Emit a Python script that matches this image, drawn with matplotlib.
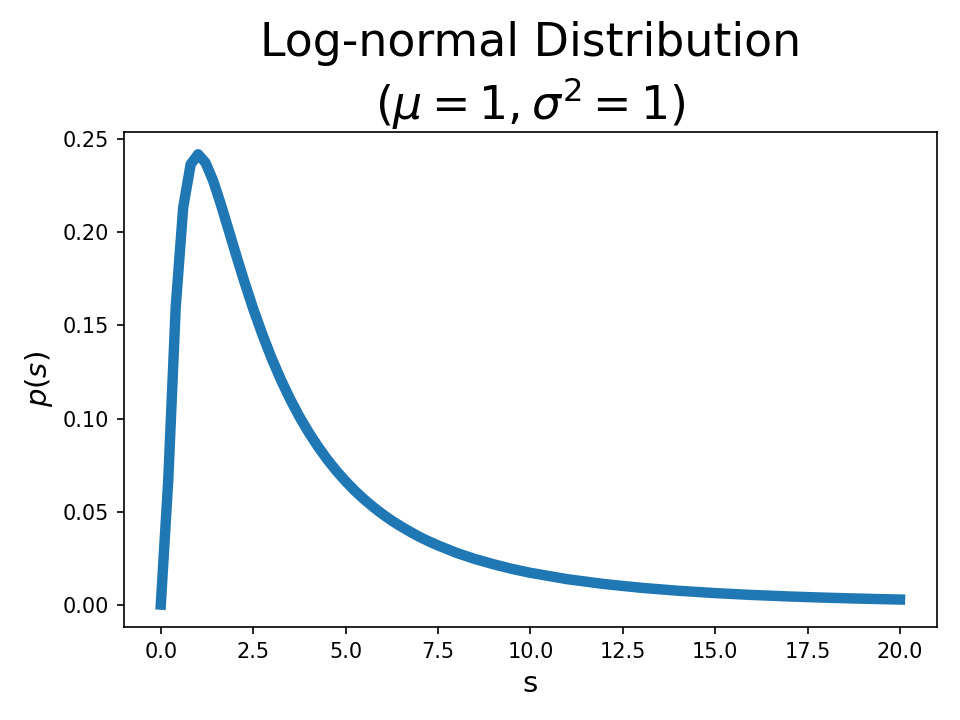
import matplotlib
matplotlib.use('Agg')
import matplotlib.pyplot as plt

# values
s_vals = [0.0, 0.202, 0.404, 0.606, 0.808, 1.01, 1.212, 1.414, 1.616, 1.818, 2.02,
          2.25, 2.5, 2.75, 3.0, 3.25, 3.5, 3.75, 4.0, 4.25, 4.5, 4.75, 5.0, 5.25,
          5.5, 5.75, 6.0, 6.25, 6.5, 6.75, 7.0, 7.25, 7.5, 8.0, 8.5, 9.0, 9.5, 10.0,
          11.0, 12.0, 13.0, 14.0, 15.0, 16.0, 17.0, 18.0, 19.0, 20.0]
p_vals = [0.0, 0.067, 0.160, 0.2134, 0.2366, 0.242, 0.2374, 0.2279, 0.2157, 0.2024, 0.1890,
          0.1742, 0.1590, 0.1451, 0.1323, 0.1208, 0.1104, 0.1010, 0.0926, 0.0850, 0.0781,
          0.0719, 0.0663, 0.0612, 0.0566, 0.0524, 0.0486, 0.0451, 0.0420, 0.0391, 0.0364,
          0.0340, 0.0318, 0.0278, 0.0245, 0.0217, 0.0192, 0.01708,
          0.01365, 0.01104, 0.00902, 0.00744, 0.00618, 0.00518, 0.00437, 0.00371,
          0.00317, 0.00272]

fig, ax = plt.subplots(figsize=(6.4, 4.8), dpi=150)
ax.plot(s_vals, p_vals, color='#1f77b4', linewidth=5)
ax.set_title('Log-normal Distribution\n($\\mu=1, \\sigma^2=1$)', fontsize=22)
ax.set_xlabel('s', fontsize=14)
ax.set_ylabel('$p(s)$', fontsize=14)
fig.subplots_adjust(left=0.129, right=0.976, top=0.817, bottom=0.129)
fig.savefig('out.png')
